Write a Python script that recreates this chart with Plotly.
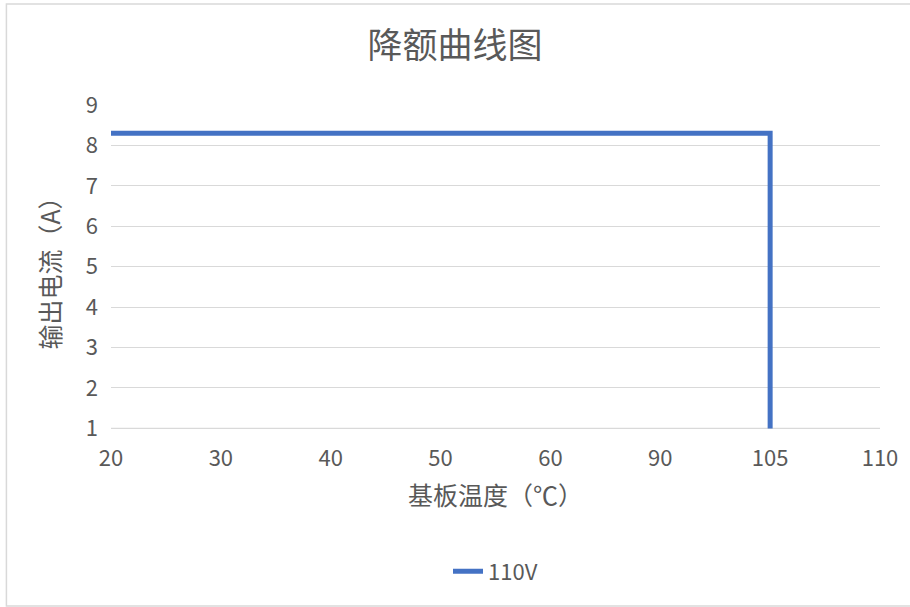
import plotly.graph_objects as go

categories = ["20", "30", "40", "50", "60", "90", "105", "110"]
x_vals = ["20", "30", "40", "50", "60", "90", "105", "105"]
y_vals = [8.3, 8.3, 8.3, 8.3, 8.3, 8.3, 8.3, 1]
series_name = "110V"
y_ticks = [1, 2, 3, 4, 5, 6, 7, 8, 9]

FONT = "Noto Sans CJK SC"
GREY = "#595959"

fig = go.Figure()
fig.add_trace(go.Scatter(
    x=x_vals, y=y_vals, mode="lines", name=series_name,
    line=dict(color="#4472C4", width=5),
))

fig.update_layout(
    width=910, height=607,
    margin=dict(l=111, r=26, t=105, b=178),
    paper_bgcolor="white", plot_bgcolor="white",
    font=dict(family=FONT, color=GREY, size=22),
    title=dict(text="降额曲线图", x=0.5, xanchor="center", y=0.925, yanchor="middle",
               font=dict(size=35, color=GREY, family=FONT)),
    xaxis=dict(type="category", categoryorder="array", categoryarray=categories,
               range=[0, 7], showgrid=False, showline=False, zeroline=False,
               ticks="", tickfont=dict(size=22, color=GREY), ticklabelstandoff=14,
               title=dict(text="基板温度（℃）", font=dict(size=25, color=GREY), standoff=16)),
    yaxis=dict(range=[0.985, 9], tickvals=y_ticks, showgrid=True, gridcolor="#D9D9D9",
               gridwidth=1, zeroline=False, showline=False, ticks="",
               tickfont=dict(size=22, color=GREY), ticklabelstandoff=12,
               title=dict(text="输出电流（A）", font=dict(size=25, color=GREY), standoff=18)),
    showlegend=True,
    legend=dict(orientation="h", x=0.5, xanchor="center", y=-0.44, yanchor="middle",
                font=dict(size=22, color=GREY)),
)

# bottom gridline (plotly hides the gridline at the axis edge)
fig.add_shape(type="line", xref="paper", yref="y", x0=0, x1=1,
              y0=y_ticks[0], y1=y_ticks[0],
              line=dict(color="#D9D9D9", width=1.5), layer="below")

fig.add_shape(type="rect", xref="paper", yref="paper",
              x0=-0.136, x1=1.05, y0=-0.546, y1=1.312,
              line=dict(color="#D9D9D9", width=1.5), fillcolor="rgba(0,0,0,0)", layer="below")

fig.write_html("out.html")
